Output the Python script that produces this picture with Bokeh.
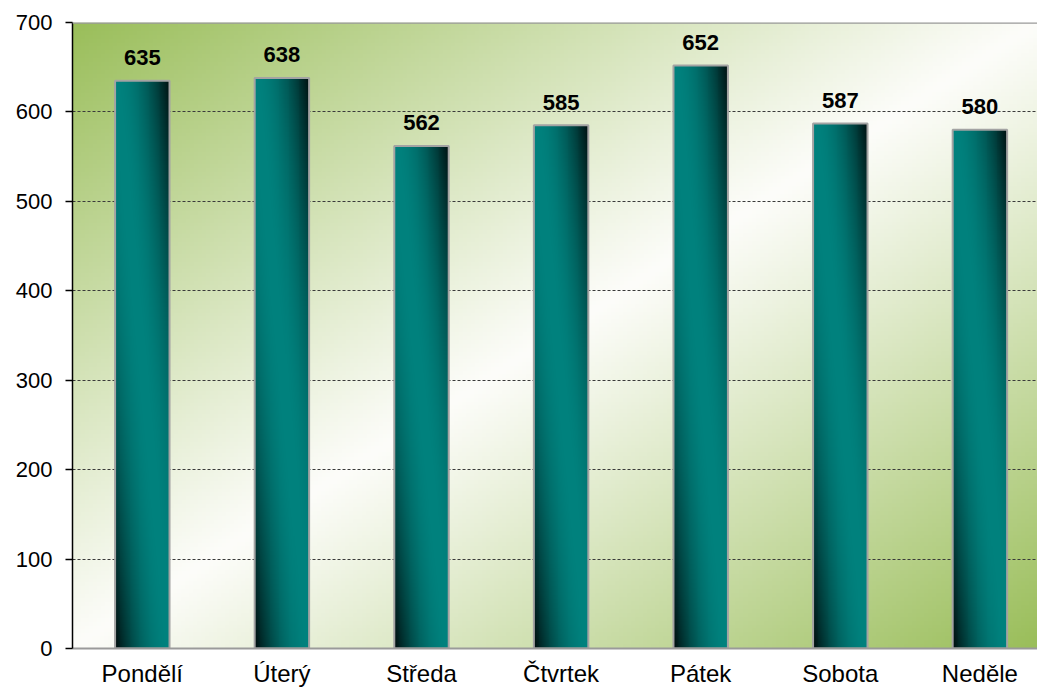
import numpy as np
from bokeh.plotting import figure
from bokeh.models import Range1d, FixedTicker, Span
from bokeh.core.properties import value
from bokeh.embed import file_html
from bokeh.resources import INLINE

# ---- data ----
days = ["Pondělí", "Úterý", "Středa", "Čtvrtek", "Pátek", "Sobota", "Neděle"]
counts = [635, 638, 562, 585, 652, 587, 580]
y_ticks = [0, 100, 200, 300, 400, 500, 600, 700]

FONT = "Liberation Sans"
W, H = 1037, 689
LEFT, TOP, BOTTOM, RIGHT = 72, 22, 41, 0
frame_w = W - LEFT - RIGHT
cat_px = 139.6
x_end = frame_w / cat_px
bar_w = 0.39

centers = [i + 0.5 for i in range(len(days))]

p = figure(width=W, height=H, output_backend="svg", toolbar_location=None,
           x_range=Range1d(0, x_end), y_range=Range1d(0, 700),
           min_border_left=LEFT, min_border_right=RIGHT,
           min_border_top=TOP, min_border_bottom=BOTTOM)
p.outline_line_color = None
p.background_fill_color = "white"
p.border_fill_color = "white"


def rgba(arr):
    a = np.clip(arr, 0, 255).astype(np.uint8)
    h, w, _ = a.shape
    out = np.empty((h, w, 4), dtype=np.uint8)
    out[..., :3] = a
    out[..., 3] = 255
    return out.view(dtype=np.uint32).reshape(h, w)


# ---- background gradient (green corners top-left & bottom-right, white diagonal) ----
bh, bw = 160, 240
yy, xx = np.mgrid[0:bh, 0:bw]
xn = xx / (bw - 1)
yn = 1 - yy / (bh - 1)          # row 0 is the bottom -> yn measured from top
t = np.abs(xn + yn - 1.0) ** 1.05
green = np.array([154, 190, 90], dtype=float)
white = np.array([253, 253, 250], dtype=float)
bg = white[None, None, :] + (green - white)[None, None, :] * t[..., None]
bg_r = p.image_rgba(image=[rgba(bg)], x=0, y=0, dw=x_end, dh=700)
bg_r.level = "image"

# ---- grid ----
p.xgrid.visible = False
p.ygrid.ticker = FixedTicker(ticks=[100, 200, 300, 400, 500, 600])
p.ygrid.grid_line_color = "#3a3a3a"
p.ygrid.grid_line_dash = "3 2"
p.ygrid.grid_line_width = 1

# ---- bars with shaded gradient ----
gh, gw = 240, 60
gy, gx = np.mgrid[0:gh, 0:gw]
xb = gx / (gw - 1)
yb = 1 - gy / (gh - 1)
f = np.abs(xb - yb) ** 2.0
teal = np.array([0, 130, 126], dtype=float)
dark = np.array([0, 14, 14], dtype=float)
bar_img = teal[None, None, :] * (1 - f[..., None]) + dark[None, None, :] * f[..., None]
bar_img = rgba(bar_img)

p.image_rgba(image=[bar_img] * len(days),
             x=[c - bar_w / 2 for c in centers], y=[0] * len(days),
             dw=[bar_w] * len(days), dh=counts)
p.vbar(x=centers, top=counts, width=bar_w, bottom=0,
       fill_color=None, line_color="#a3a3a3", line_width=2)

# ---- value labels ----
p.text(x=centers, y=counts, text=[str(v) for v in counts],
       text_align="center", text_baseline="alphabetic", y_offset=-23,
       text_font=value(FONT), text_font_style="bold", text_font_size="22px",
       text_color="#000000")

# ---- top border line ----
p.add_layout(Span(location=700, dimension="width", line_color="#9a9a9a", line_width=2.5))

# ---- axes ----
p.yaxis.ticker = FixedTicker(ticks=y_ticks)
p.yaxis.axis_line_color = "#000000"
p.yaxis.axis_line_width = 1.5
p.yaxis.major_tick_line_color = "#000000"
p.yaxis.major_tick_line_width = 1.5
p.yaxis.major_tick_out = 7
p.yaxis.major_tick_in = 0
p.yaxis.minor_tick_line_color = None
p.yaxis.major_label_standoff = 13
p.yaxis.major_label_text_font = FONT
p.yaxis.major_label_text_font_size = "22px"
p.yaxis.major_label_text_color = "#000000"

p.xaxis.ticker = FixedTicker(ticks=centers)
p.xaxis.major_label_overrides = {c: d for c, d in zip(centers, days)}
p.xaxis.axis_line_color = "#9a9a9a"
p.xaxis.axis_line_width = 2
p.xaxis.major_tick_line_color = None
p.xaxis.minor_tick_line_color = None
p.xaxis.major_label_standoff = 5
p.xaxis.major_label_text_font = FONT
p.xaxis.major_label_text_font_size = "24px"
p.xaxis.major_label_text_color = "#000000"

open("out.html", "w").write(file_html(p, INLINE))
